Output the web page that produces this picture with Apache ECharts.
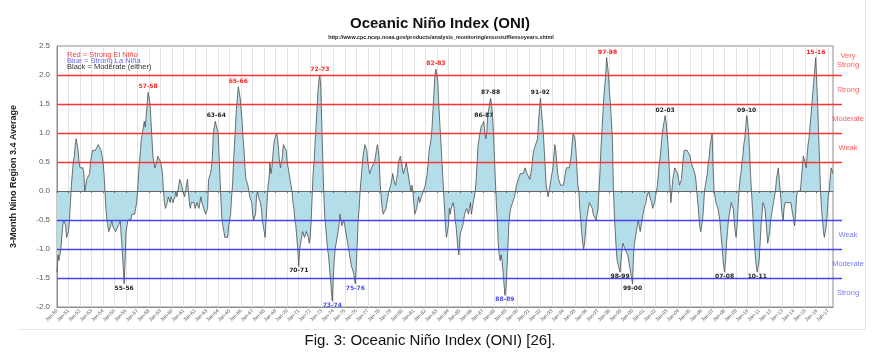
<!DOCTYPE html>
<html><head><meta charset="utf-8">
<script src="https://cdn.jsdelivr.net/npm/echarts@6.0.0/dist/echarts.min.js"></script>
<style>html,body{margin:0;padding:0;background:#fff}#c{width:881px;height:363px}</style>
</head><body><div id="c"></div>
<script>
// ---------- data ----------
const firstYear = 1950;
const monthNames = ['Jan','Feb','Mar','Apr','May','Jun','Jul','Aug','Sep','Oct','Nov','Dec'];

const oni1950s = [
 -1.4,-1.1,-1.2,-1.2,-1.0,-0.8,-0.6,-0.5,-0.5,-0.6,-0.8,-0.8,
 -0.7,-0.5,-0.2, 0.1, 0.3, 0.5, 0.6, 0.8, 0.9, 0.9, 0.7, 0.5,
  0.4, 0.4, 0.4, 0.4, 0.3, 0.0, 0.0, 0.2, 0.2, 0.2, 0.3, 0.5,
  0.6, 0.7, 0.7, 0.7, 0.7, 0.7, 0.7, 0.8, 0.8, 0.8, 0.7, 0.6,
  0.5, 0.3, 0.0,-0.3,-0.5,-0.6,-0.7,-0.7,-0.6,-0.5,-0.6,-0.6,
 -0.6,-0.7,-0.7,-0.7,-0.6,-0.6,-0.5,-0.8,-1.0,-1.3,-1.6,-1.2,
 -0.7,-0.6,-0.5,-0.5,-0.5,-0.5,-0.4,-0.4,-0.4,-0.4,-0.3,-0.2,
  0.0, 0.3, 0.5, 0.7, 0.9, 1.0, 1.1, 1.2, 1.1, 1.3, 1.5, 1.7,
  1.7, 1.5, 1.2, 0.9, 0.6, 0.5, 0.4, 0.4, 0.5, 0.6, 0.6, 0.6,
  0.5, 0.5, 0.3, 0.0,-0.2,-0.3,-0.3,-0.2,-0.1,-0.1,-0.2,-0.1
];
const oni1960s = [
 -0.1,-0.2,-0.2,-0.1, 0.0,-0.1,-0.1, 0.1, 0.2, 0.2, 0.1, 0.0,
  0.0,-0.1, 0.0, 0.1, 0.2, 0.0,-0.2,-0.3,-0.2,-0.2,-0.2,-0.2,
 -0.3,-0.3,-0.2,-0.2,-0.3,-0.2,-0.1,-0.2,-0.2,-0.3,-0.3,-0.4,
 -0.4,-0.3, 0.2, 0.2, 0.3, 0.4, 0.6, 1.0, 1.1, 1.2, 1.2, 1.2,
  1.0, 0.6, 0.2,-0.2,-0.5,-0.6,-0.7,-0.8,-0.8,-0.8,-0.8,-0.6,
 -0.5,-0.4,-0.1, 0.1, 0.5, 0.8, 1.1, 1.4, 1.6, 1.8, 1.7, 1.6,
  1.4, 1.2, 0.9, 0.7, 0.4, 0.2, 0.2, 0.1, 0.0,-0.1,-0.1,-0.2,
 -0.4,-0.5,-0.5,-0.4,-0.1, 0.0,-0.1,-0.1,-0.2,-0.3,-0.5,-0.6,
 -0.7,-0.8,-0.5,-0.2, 0.1, 0.2, 0.5, 0.3, 0.4, 0.6, 0.8, 0.9,
  0.9, 1.0, 0.9, 0.7, 0.5, 0.4, 0.5, 0.6, 0.8, 0.8, 0.8, 0.7
];
const oni1970s = [
  0.5, 0.4, 0.3, 0.2, 0.1, 0.0,-0.2,-0.3,-0.5,-0.6,-0.8,-1.0,
 -1.3,-1.0,-0.9,-0.8,-0.7,-0.7,-0.8,-0.8,-0.7,-0.7,-0.8,-0.9,
 -0.8,-0.5,-0.1, 0.3, 0.5, 0.8, 1.1, 1.4, 1.7, 1.9, 2.0, 1.8,
  1.2, 0.6, 0.0,-0.4,-0.6,-0.8,-1.0,-1.1,-1.3,-1.5,-1.7,-1.9,
 -1.5,-1.2,-1.0,-0.9,-0.8,-0.7,-0.6,-0.4,-0.5,-0.6,-0.6,-0.5,
 -0.6,-0.7,-0.8,-0.9,-1.0,-1.1,-1.1,-1.3,-1.3,-1.4,-1.5,-1.6,
 -1.3,-0.9,-0.5,-0.3, 0.0, 0.2, 0.4, 0.6, 0.7, 0.8, 0.8, 0.7,
  0.5, 0.4, 0.3, 0.3, 0.4, 0.4, 0.4, 0.5, 0.6, 0.7, 0.8, 0.7,
  0.5, 0.1,-0.1,-0.3,-0.4,-0.4,-0.4,-0.3,-0.2,-0.1, 0.0, 0.0,
  0.1, 0.2, 0.3, 0.2, 0.2, 0.1, 0.2, 0.3, 0.5, 0.5, 0.6, 0.5
];
const oni1980s = [
  0.4, 0.3, 0.3, 0.4, 0.5, 0.4, 0.3, 0.2, 0.1, 0.0, 0.1, 0.0,
 -0.2,-0.4,-0.4,-0.3,-0.2,-0.1,-0.2,-0.2,-0.1,-0.1, 0.0, 0.0,
  0.1, 0.2, 0.3, 0.5, 0.7, 0.8, 0.9, 1.1, 1.4, 1.7, 2.0, 2.1,
  2.1, 1.9, 1.5, 1.2, 0.9, 0.6, 0.3, 0.0,-0.3,-0.6,-0.8,-0.7,
 -0.6,-0.3,-0.4,-0.3,-0.3,-0.2,-0.3,-0.5,-0.6,-0.8,-1.0,-1.1,
 -0.8,-0.7,-0.7,-0.6,-0.6,-0.4,-0.4,-0.3,-0.3,-0.4,-0.3,-0.2,
 -0.4,-0.3,-0.2,-0.1, 0.0, 0.2, 0.5, 0.8, 0.9, 1.0, 1.1, 1.1,
  1.1, 1.2, 1.0, 0.9, 1.0, 1.3, 1.4, 1.5, 1.6, 1.5, 1.3, 1.0,
  0.6, 0.2,-0.2,-0.5,-0.9,-1.1,-1.2,-1.1,-1.2,-1.4,-1.6,-1.8,
 -1.7,-1.4,-1.0,-0.6,-0.4,-0.3,-0.3,-0.2,-0.2,-0.1,-0.1, 0.1
];
const oni1990s = [
  0.1, 0.2, 0.2, 0.3, 0.3, 0.3, 0.3, 0.3, 0.4, 0.4, 0.3, 0.3,
  0.3, 0.2, 0.3, 0.4, 0.6, 0.7, 0.7, 0.8, 0.8, 0.9, 1.2, 1.4,
  1.6, 1.4, 1.2, 1.0, 0.7, 0.4, 0.1, 0.0,-0.1,-0.1, 0.1, 0.2,
  0.3, 0.4, 0.6, 0.8, 0.7, 0.5, 0.3, 0.2, 0.2, 0.1, 0.1, 0.1,
  0.1, 0.2, 0.3, 0.4, 0.4, 0.4, 0.4, 0.5, 0.6, 0.8, 1.0, 1.0,
  0.9, 0.7, 0.4, 0.1, 0.0,-0.3,-0.5,-0.7,-0.9,-1.0,-0.9,-0.7,
 -0.5,-0.4,-0.3,-0.2,-0.2,-0.2,-0.3,-0.4,-0.4,-0.4,-0.5,-0.5,
 -0.3, 0.0, 0.3, 0.7, 1.0, 1.3, 1.6, 1.8, 2.0, 2.3, 2.3, 2.0,
  1.7, 1.5, 1.2, 0.9, 0.1,-0.4,-0.7,-1.0,-1.2,-1.2,-1.2,-1.4,
 -1.2,-1.0,-0.9,-0.9,-1.0,-1.0,-1.0,-1.1,-1.2,-1.3,-1.4,-1.5
];
const oni2000s = [
 -1.6,-1.1,-0.9,-0.8,-0.7,-0.6,-0.5,-0.6,-0.7,-0.6,-0.5,-0.4,
 -0.3,-0.3,-0.2,-0.1,-0.1, 0.0,-0.1,-0.1,-0.2,-0.3,-0.3,-0.2,
 -0.1, 0.0, 0.1, 0.3, 0.5, 0.6, 0.8, 1.0, 1.1, 1.2, 1.3, 1.2,
  1.0, 0.8, 0.5, 0.1,-0.2, 0.0, 0.2, 0.3, 0.4, 0.4, 0.4, 0.3,
  0.2, 0.1, 0.1, 0.2, 0.4, 0.6, 0.7, 0.7, 0.7, 0.7, 0.7, 0.7,
  0.6, 0.5, 0.5, 0.4, 0.4, 0.3, 0.2, 0.0,-0.2,-0.4,-0.6,-0.7,
 -0.7,-0.5,-0.3, 0.0, 0.1, 0.2, 0.3, 0.5, 0.6, 0.8, 0.9, 1.0,
  0.4, 0.0,-0.1,-0.2,-0.2,-0.3,-0.4,-0.5,-0.7,-0.9,-1.1,-1.3,
 -1.4,-1.2,-0.9,-0.7,-0.5,-0.4,-0.3,-0.2,-0.2,-0.3,-0.5,-0.7,
 -0.8,-0.6,-0.3, 0.0, 0.2, 0.3, 0.5, 0.6, 0.8, 0.9, 1.1, 1.3
];
const oni2010s = [
  1.2, 1.0, 0.7, 0.3, 0.0,-0.3,-0.6,-0.9,-1.1,-1.3,-1.4,-1.3,
 -1.2,-0.9,-0.6,-0.4,-0.2,-0.2,-0.3,-0.5,-0.7,-0.9,-0.9,-0.7,
 -0.5,-0.4,-0.3,-0.2,-0.1, 0.0, 0.2, 0.3, 0.4, 0.2, 0.0,-0.2,
 -0.4,-0.5,-0.3,-0.2,-0.2,-0.2,-0.2,-0.2,-0.2,-0.2,-0.3,-0.4,
 -0.5,-0.6,-0.4,-0.1, 0.0, 0.0, 0.0, 0.0, 0.2, 0.4, 0.6, 0.6,
  0.5, 0.4, 0.6, 0.8, 0.9, 1.1, 1.3, 1.5, 1.7, 1.9, 2.1, 2.3,
  1.9, 1.5, 1.0, 0.5, 0.0,-0.3,-0.5,-0.7,-0.8,-0.8,-0.6,-0.4,
 -0.1, 0.0, 0.2, 0.4, 0.4, 0.3
];

const yMin = -2.0, yMax = 2.5, yStep = 0.5;
const elThresholds = [0.5, 1.0, 1.5, 2.0];
const laThresholds = [-0.5, -1.0, -1.5];
const strengthText  = ['Very\nStrong', 'Strong', 'Moderate', 'Weak', 'Weak', 'Moderate', 'Strong'];
const strengthLevel = [2.25, 1.75, 1.25, 0.75, -0.75, -1.25, -1.75];
const strengthKind  = ['el', 'el', 'el', 'el', 'la', 'la', 'la'];

const eventNames  = ['57-58','65-66','72-73','82-83','97-98','15-16',
                     '63-64','86-87','87-88','91-92','02-03','09-10',
                     '55-56','70-71','98-99','99-00','07-08','10-11',
                     '73-74','75-76','88-89'];
const eventMonths = ['Dec-57','Oct-65','Nov-72','Dec-82','Nov-97','Dec-15',
                     'Nov-63','Feb-87','Sep-87','Jan-92','Nov-02','Dec-09',
                     'Nov-55','Jan-71','Dec-98','Jan-00','Jan-08','Nov-10',
                     'Dec-73','Dec-75','Dec-88'];
const eventKinds  = ['el','el','el','el','el','el',
                     'mod','mod','mod','mod','mod','mod',
                     'mod','mod','mod','mod','mod','mod',
                     'la','la','la'];

// ---------- build ----------
const oni = [].concat(oni1950s, oni1960s, oni1970s, oni1980s, oni1990s, oni2000s, oni2010s);
const categories = oni.map((v, i) => monthNames[i % 12] + '-' + String((firstYear + Math.floor(i / 12)) % 100).padStart(2, '0'));

const RED = '#ff3333', BLUE = '#4444ff';
const kindColor = { el: '#ff2020', la: '#4a4aff', mod: '#222222' };
const isJan = (i) => i % 12 === 0;
const FONT = "'Liberation Sans', Arial, sans-serif";

const eventPoints = eventNames.map((n, k) => {
  const idx = categories.indexOf(eventMonths[k]);
  const v = oni[idx];
  return {
    coord: [idx, v], value: n,
    label: { position: v >= 0 ? 'top' : 'bottom', distance: v >= 0 ? 2 : 1,
             color: kindColor[eventKinds[k]] }
  };
});

const chart = echarts.init(document.getElementById('c'), null, { renderer: 'canvas' });
chart.setOption({
  animation: false,
  backgroundColor: '#ffffff',
  grid: [
    { left: 57, top: 46, width: 776, height: 261, show: true, borderColor: '#8c8c8c', borderWidth: 1, backgroundColor: 'transparent' },
    { left: 57, top: 46, width: 785, height: 261, show: false },
    { left: 833, top: 46, width: 30, height: 261, show: false }
  ],
  xAxis: [
    { type: 'category', gridIndex: 0, data: categories, boundaryGap: false,
      axisLine: { onZero: true, lineStyle: { color: '#666', width: 1 } },
      axisTick: { show: true, interval: (i) => isJan(i), length: 2, lineStyle: { color: '#666' } },
      axisLabel: { show: false },
      splitLine: { show: false },
      z: 5 },
    { type: 'category', gridIndex: 0, data: categories, boundaryGap: false, position: 'bottom',
      axisLine: { onZero: false, lineStyle: { color: '#8c8c8c' } },
      axisTick: { show: false },
      axisLabel: { interval: (i) => isJan(i), rotate: 45, fontSize: 5, color: '#555', margin: 3, fontFamily: FONT },
      splitLine: { show: true, interval: (i) => isJan(i), lineStyle: { color: '#e3e3e3', width: 1 } },
      z: 0 },
    { type: 'value', gridIndex: 1, min: 0, max: 1, show: false },
    { type: 'value', gridIndex: 2, min: 0, max: 1, show: false }
  ],
  yAxis: [
    { type: 'value', gridIndex: 0, min: yMin, max: yMax, interval: yStep,
      name: '3-Month Nino Region 3.4 Average', nameLocation: 'middle', nameGap: 39,
      nameTextStyle: { fontSize: 9, fontWeight: 'bold', color: '#222', fontFamily: FONT },
      axisLine: { show: true, lineStyle: { color: '#8c8c8c' } },
      axisTick: { show: false },
      axisLabel: { fontSize: 8, color: '#595959', margin: 7, fontFamily: FONT, formatter: (v) => v.toFixed(1) },
      splitLine: { show: false } },
    { type: 'value', gridIndex: 1, min: yMin, max: yMax, show: false },
    { type: 'value', gridIndex: 2, min: yMin, max: yMax, show: false }
  ],
  series: [
    { type: 'line', name: 'ONI', xAxisIndex: 0, yAxisIndex: 0, data: oni,
      symbol: 'none', showSymbol: false, sampling: false, z: 2,
      lineStyle: { color: '#4d4d4d', width: 0.8 },
      areaStyle: { color: '#b3dde8', opacity: 1, origin: 0 },
      markPoint: {
        symbol: 'circle', symbolSize: 1, itemStyle: { color: 'rgba(0,0,0,0)' },
        label: { show: true, formatter: (p) => p.value, fontSize: 6, fontWeight: 'bold', fontFamily: "'DejaVu Sans', Verdana, sans-serif" },
        data: eventPoints, silent: true, animation: false
      } },
    { type: 'line', xAxisIndex: 2, yAxisIndex: 1, data: [[0, 0], [1, 0]], symbol: 'none',
      lineStyle: { opacity: 0 }, z: 4, silent: true,
      markLine: {
        symbol: ['none', 'none'], silent: true, animation: false, label: { show: false },
        data: elThresholds.map(v => ({ yAxis: v, lineStyle: { color: RED, width: 1.4, type: 'solid' } }))
          .concat(laThresholds.map(v => ({ yAxis: v, lineStyle: { color: BLUE, width: 1.4, type: 'solid' } })))
      } },
    { type: 'scatter', xAxisIndex: 3, yAxisIndex: 2, symbolSize: 0, silent: true,
      data: strengthLevel.map((v, k) => ({ value: [0.5, v], name: strengthText[k],
        label: { color: strengthKind[k] === 'el' ? '#ff3030' : '#5555ff' } })),
      label: { show: true, position: 'inside', formatter: (p) => p.name, fontSize: 7.5, lineHeight: 9, fontFamily: FONT, align: 'center' } }
  ],
  graphic: [
    { type: 'polyline', shape: { points: [[19, 329.5], [865.5, 329.5], [865.5, 0]] }, style: { stroke: '#e4e4e4', fill: null, lineWidth: 1 }, silent: true },
    { type: 'text', x: 440, y: 24, style: { text: 'Oceanic Niño Index (ONI)', font: "bold 15px 'Liberation Sans', Arial, sans-serif", fill: '#111', align: 'center', verticalAlign: 'middle' } },
    { type: 'text', x: 441, y: 38, style: { text: 'http://www.cpc.ncep.noaa.gov/products/analysis_monitoring/ensostuff/ensoyears.shtml', font: "bold 5.4px 'Liberation Sans', Arial, sans-serif", fill: '#222', align: 'center', verticalAlign: 'middle' } },
    { type: 'text', x: 67, y: 54.5, z: 10, style: { text: 'Red = Strong El Niño', font: "7.5px 'Liberation Sans', Arial, sans-serif", fill: '#ff3b3b', verticalAlign: 'middle' } },
    { type: 'text', x: 67, y: 60.8, z: 10, style: { text: 'Blue = Strong La Niña', font: "7.5px 'Liberation Sans', Arial, sans-serif", fill: '#6666ff', verticalAlign: 'middle' } },
    { type: 'text', x: 67, y: 67, z: 10, style: { text: 'Black = Moderate (either)', font: "7.5px 'Liberation Sans', Arial, sans-serif", fill: '#333', verticalAlign: 'middle' } },
    { type: 'text', x: 430, y: 341, style: { text: 'Fig. 3: Oceanic Niño Index (ONI) [26].', font: "15px 'Liberation Sans', Arial, sans-serif", fill: '#111', align: 'center', verticalAlign: 'middle' } }
  ]
});
</script></body></html>
